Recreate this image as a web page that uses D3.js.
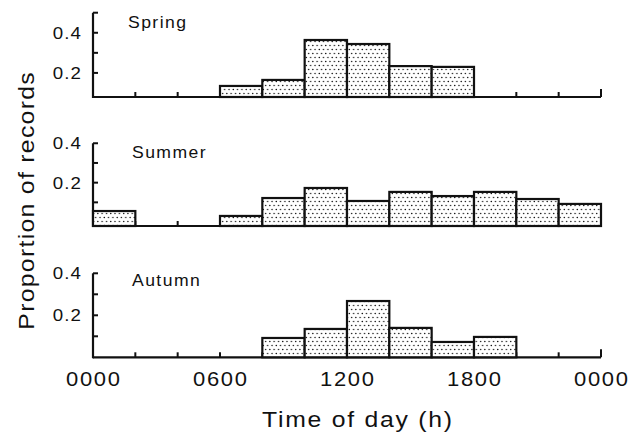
<!DOCTYPE html>
<html>
<head>
<meta charset="utf-8">
<script src="https://cdn.jsdelivr.net/npm/d3@7"></script>
<style>
  html, body { margin: 0; padding: 0; background: #fff; }
  svg { display: block; }
</style>
</head>
<body>
<svg id="chart" width="631" height="432"></svg>
<script>
// Two-hour bins across the day (bin start hour)
const binStarts = [0, 2, 4, 6, 8, 10, 12, 14, 16, 18, 20, 22];
const binWidth = 2;

// Proportion of records per bin, by season (0 = no bar)
const springValues = [0, 0, 0, 0.135, 0.165, 0.364, 0.344, 0.234, 0.23, 0, 0, 0];
const summerValues = [0.056, 0, 0, 0.031, 0.122, 0.173, 0.107, 0.153, 0.132, 0.153, 0.117, 0.092];
const autumnValues = [0, 0, 0, 0, 0.092, 0.135, 0.268, 0.14, 0.073, 0.097, 0, 0];

const seasons = ["Spring", "Summer", "Autumn"];
const seasonValues = [springValues, summerValues, autumnValues];

// Value range of each panel's y axis (floor of the baseline, top of the axis)
const yFloors = [0.08, -0.02, 0];
const yTops = [0.5, 0.4, 0.4];
const yLabelValues = [0.2, 0.4];

// x axis labels
const xTickHours = [0, 6, 12, 18, 24];
const xTickLabels = ["0000", "0600", "1200", "1800", "0000"];

const xTitle = "Time of day (h)";
const yTitle = "Proportion of records";

// ---- layout ----
const FONT = "'Liberation Sans', Arial, Helvetica, sans-serif";
const STRETCH = 1.1;           // slightly wide lettering
const TRACK = 1.2;             // extra letter spacing
const panelBase = [97, 226, 357.3];   // pixel y of each panel baseline
const panelPxPerUnit = [200.7, 197, 210];
const titleX = [128, 132, 132];
const titleY = [28, 158, 286];

const svg = d3.select("#chart");

// stipple fill for bars
const defs = svg.append("defs");
const pat = defs.append("pattern")
  .attr("id", "stipple")
  .attr("patternUnits", "userSpaceOnUse")
  .attr("width", 4.3).attr("height", 8);
pat.append("rect").attr("width", 4.3).attr("height", 8).attr("fill", "#fff");
pat.append("circle").attr("cx", 1.1).attr("cy", 1.5).attr("r", 0.75).attr("fill", "#111");
pat.append("circle").attr("cx", 3.25).attr("cy", 5.5).attr("r", 0.75).attr("fill", "#111");

const x = d3.scaleLinear().domain([0, 24]).range([93, 601]);

function stretchedText(parent, px, py, txt, size, anchor, rotate, track = TRACK) {
  const g = parent.append("g")
    .attr("transform", `translate(${px},${py})` + (rotate ? ` rotate(${rotate})` : "") + ` scale(${STRETCH},1)`);
  const t = g.append("text")
    .attr("x", 0).attr("y", 0)
    .attr("font-family", FONT)
    .attr("font-size", size)
    .attr("letter-spacing", track)
    .attr("fill", "#111")
    .text(txt);
  // anchor manually so trailing letter spacing does not shift the text
  const w = t.node().getComputedTextLength() - track;
  const shift = anchor === "middle" ? -w / 2 : anchor === "end" ? -w : 0;
  t.attr("x", shift);
  return t;
}

seasons.forEach((season, i) => {
  const floor = yFloors[i], top = yTops[i];
  const base = panelBase[i];
  const y = d3.scaleLinear()
    .domain([floor, top])
    .range([base, base - (top - floor) * panelPxPerUnit[i]]);

  const g = svg.append("g");

  // x axis baseline with upward ticks every two hours
  g.append("line")
    .attr("x1", x(0)).attr("x2", x(24))
    .attr("y1", y(floor)).attr("y2", y(floor))
    .attr("stroke", "#111").attr("stroke-width", 2.2);
  const xTicks = d3.range(2, 25, 2);
  g.selectAll("line.xt").data(xTicks).join("line")
    .attr("class", "xt")
    .attr("x1", d => x(d)).attr("x2", d => x(d))
    .attr("y1", y(floor))
    .attr("y2", d => y(floor) - (d === 24 ? 8 : 5))
    .attr("stroke", "#111").attr("stroke-width", 2);

  // y axis with inward ticks every 0.1
  g.append("line")
    .attr("x1", x(0)).attr("x2", x(0))
    .attr("y1", y(floor) + 1).attr("y2", y(top))
    .attr("stroke", "#111").attr("stroke-width", 2.2);
  const yTicks = d3.range(1, Math.round(top * 10) + 1).map(k => k / 10)
    .filter(v => v > floor + 0.05);
  g.selectAll("line.yt").data(yTicks).join("line")
    .attr("class", "yt")
    .attr("x1", x(0)).attr("x2", x(0) + 5)
    .attr("y1", d => y(d)).attr("y2", d => y(d))
    .attr("stroke", "#111").attr("stroke-width", 2);

  yLabelValues.forEach(v => {
    stretchedText(g, 81, y(v) + 6, v.toFixed(1), 17, "end", 0, 1);
  });

  // bars
  const bars = binStarts.map((h, k) => ({ h, v: seasonValues[i][k] })).filter(d => d.v > 0);
  g.selectAll("rect.bar").data(bars).join("rect")
    .attr("class", "bar")
    .attr("x", d => x(d.h))
    .attr("width", d => x(d.h + binWidth) - x(d.h))
    .attr("y", d => y(d.v))
    .attr("height", d => y(floor) - y(d.v))
    .attr("fill", "url(#stipple)")
    .attr("stroke", "#111").attr("stroke-width", 2.2);

  // season name
  stretchedText(g, titleX[i], titleY[i], season, 16, "start", 0, 1.3);
});

// x tick labels under the bottom panel
xTickHours.forEach((h, k) => {
  stretchedText(svg, x(h), 386, xTickLabels[k], 20, "middle", 0, 1.5);
});

// axis titles
stretchedText(svg, 357, 427, xTitle, 22.5, "middle", 0, 1.6);
stretchedText(svg, 34, 201, yTitle, 22.5, "middle", -90, 1.2);
</script>
</body>
</html>
